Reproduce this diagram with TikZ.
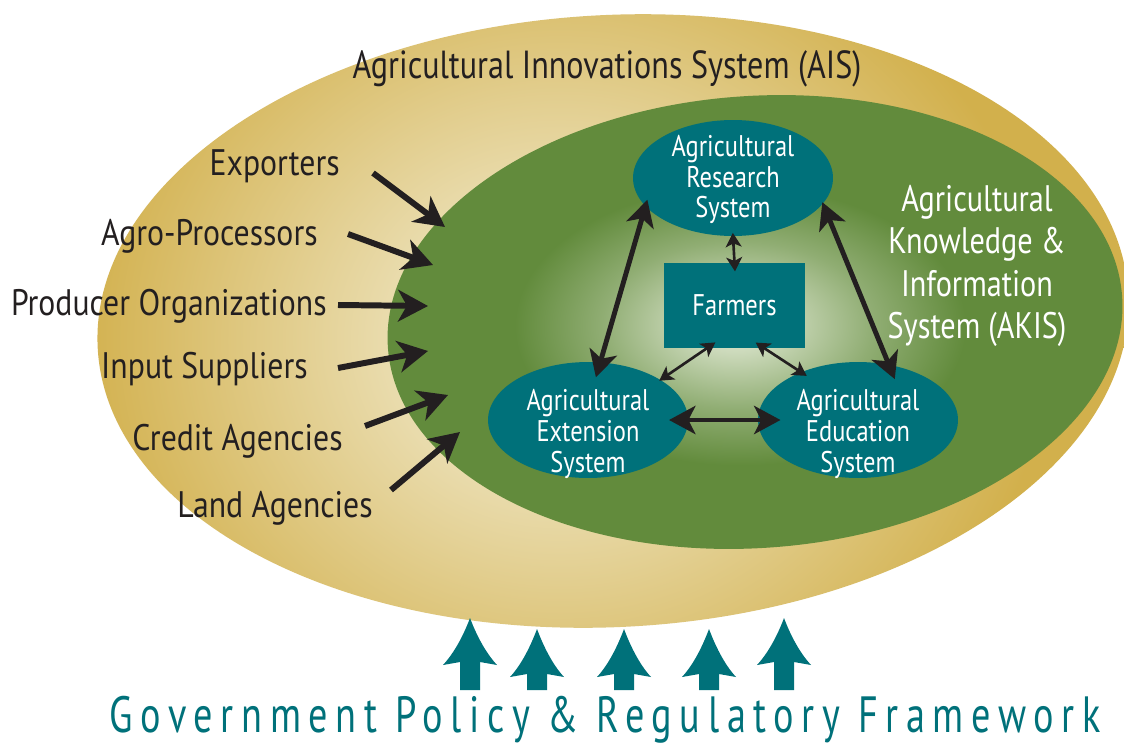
\documentclass[tikz,border=0pt]{standalone}
\usepackage{fontspec}
\setmainfont[FakeStretch=0.82]{PT Sans}
\newfontfamily\actorfont[FakeStretch=0.86]{PT Sans}
\newfontfamily\policyfont[FakeStretch=0.75,LetterSpace=15]{PT Sans}
\usetikzlibrary{shapes.geometric,arrows.meta}

\definecolor{aisgold}{HTML}{D2B04C}
\definecolor{aislight}{HTML}{EADDB0}
\definecolor{akisgreen}{HTML}{628B3C}
\definecolor{akisglow}{HTML}{E6EDDA}
\definecolor{systeal}{HTML}{00717A}
\definecolor{labelink}{HTML}{231F20}

\pgfdeclareradialshading{aisshade}{\pgfpoint{0bp}{0bp}}{color(0bp)=(aislight); color(7bp)=(aislight); color(21bp)=(aisgold); color(50bp)=(aisgold)}
\pgfdeclareradialshading{akisshade}{\pgfpoint{-1.4bp}{0.5bp}}{color(0bp)=(akisglow); color(3bp)=(akisglow!80!akisgreen); color(9bp)=(akisglow!35!akisgreen); color(15bp)=(akisgreen); color(50bp)=(akisgreen)}

\tikzset{
  sysnode/.style={ellipse, fill=systeal, text=white, minimum width=4cm, minimum height=2.32cm,
    inner xsep=0pt, inner ysep=-4pt, align=center, font=\fontsize{17}{17.5}\selectfont},
  lowtext/.style={inner ysep=-13pt},
  farmbox/.style={rectangle, fill=systeal, text=white, minimum width=2.82cm, minimum height=1.7cm,
    font=\fontsize{17}{17.5}\selectfont},
  actor/.style={anchor=base east, text=labelink, inner sep=0pt, font=\actorfont\fontsize{21}{24}\selectfont},
  bigarrow/.style={{Stealth[length=15pt,width=16pt,inset=4pt]}-{Stealth[length=15pt,width=16pt,inset=4pt]},
    line width=2.8pt, draw=labelink},
  thinarrow/.style={{Stealth[length=8pt,width=9pt,inset=2pt]}-{Stealth[length=8pt,width=9pt,inset=2pt]},
    line width=1.5pt, draw=labelink},
  feedarrow/.style={-{Stealth[length=17pt,width=18pt,inset=5pt]}, line width=3.4pt, draw=labelink},
}

\begin{document}
\begin{tikzpicture}[x=0.02cm,y=-0.02cm]
  \useasboundingbox (0,0) rectangle (1124,747);
  \fill[white] (0,0) rectangle (1124,747);

  % innovation system
  \begin{scope}
    \clip[rotate around={3:(613,321)}] (613,321) ellipse [x radius=516, y radius=306];
    \shade[shading=aisshade] (-20,-180) rectangle (1140,860);
  \end{scope}
  \node[text=labelink, font=\fontsize{22.3}{26}\selectfont] (ais) at (607,69) {Agricultural Innovations System (AIS)};

  % knowledge system
  \shade[shading=akisshade, rotate around={4:(755,322)}] (755,322) ellipse [x radius=368, y radius=226];
  \node[text=white, align=center, font=\fontsize{21}{24}\selectfont] (akis) at (977,266)
    {Agricultural\\Knowledge \&\\Information\\System (AKIS)};

  \node[sysnode] (research) at (733,178) {\rule{0pt}{14pt}Agricultural\\Research\\System};
  \node[farmbox] (farmers) at (734.5,305.5) {Farmers};
  \node[sysnode, lowtext] (extension) at (588,420) {\rule{0pt}{28pt}Agricultural\\Extension\\System};
  \node[sysnode, lowtext] (education) at (858,420) {\rule{0pt}{28pt}Agricultural\\Education\\System};

  \draw[bigarrow, shorten <=-4pt, shorten >=-9pt] (research.198) -- (extension.78);
  \draw[bigarrow, shorten <=-1pt, shorten >=-9pt] (research.344) -- (education.61);
  \draw[bigarrow, shorten <=-11pt, shorten >=-13pt] (extension) -- (education);
  \draw[thinarrow, shorten <=-2pt, shorten >=-5pt] (research.south) -- (farmers.north);
  \draw[thinarrow, shorten <=-6pt, shorten >=-1pt] (farmers.237) -- (extension.29);
  \draw[thinarrow, shorten <=-6pt, shorten >=-4pt] (farmers.305) -- (education.140);

  % actors outside the knowledge system
  \node[actor] (exporters) at (340,175) {Exporters};
  \node[actor] (agro) at (318,245) {Agro-Processors};
  \node[actor] (producers) at (327,315) {Producer Organizations};
  \node[actor] (inputs) at (308,378) {Input Suppliers};
  \node[actor] (credit) at (343,450) {Credit Agencies};
  \node[actor] (land) at (373,517) {Land Agencies};

  \coordinate (exporters out) at (373,173);
  \coordinate (exporters in) at (445,227);
  \coordinate (agro out) at (348,234);
  \coordinate (agro in) at (433,265);
  \coordinate (producers out) at (338,305);
  \coordinate (producers in) at (428,306);
  \coordinate (inputs out) at (338,368);
  \coordinate (inputs in) at (428,351);
  \coordinate (credit out) at (365,426);
  \coordinate (credit in) at (448,395);
  \coordinate (land out) at (391,490);
  \coordinate (land in) at (460,432);
  \draw[feedarrow] (exporters out) -- (exporters in);
  \draw[feedarrow] (agro out) -- (agro in);
  \draw[feedarrow] (producers out) -- (producers in);
  \draw[feedarrow] (inputs out) -- (inputs in);
  \draw[feedarrow] (credit out) -- (credit in);
  \draw[feedarrow] (land out) -- (land in);

  % policy frame
  \foreach \x/\t/\b in {470/618/665, 537/629/677, 624/629/677, 709/629/677, 784/618/665}
    \fill[systeal] (\x-10,690) -- (\x-10,\b-3) -- (\x-27,\b)
      .. controls (\x-15,\b-13) and (\x-6,\t+16) .. (\x,\t)
      .. controls (\x+6,\t+16) and (\x+15,\b-13) .. (\x+27,\b)
      -- (\x+10,\b-3) -- (\x+10,690) -- cycle;
  \node[anchor=base, text=systeal, inner sep=0pt, font=\policyfont\fontsize{29}{32}\selectfont] (policy) at (605,732)
    {Government Policy \& Regulatory Framework};
\end{tikzpicture}
\end{document}
